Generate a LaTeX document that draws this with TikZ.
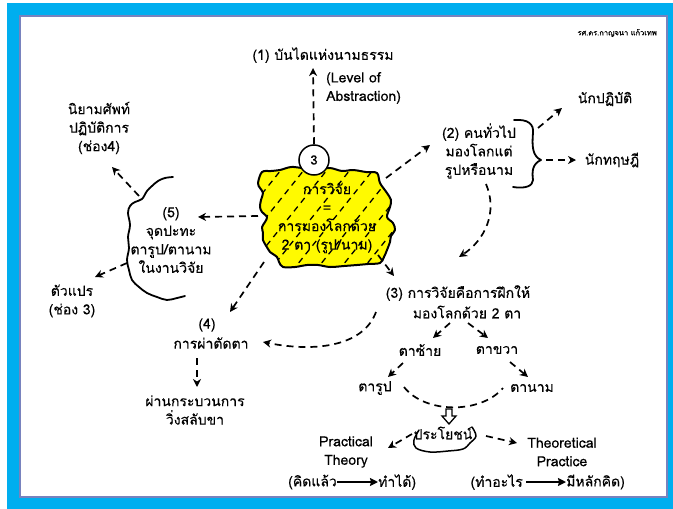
\documentclass[tikz,border=0pt]{standalone}
\usepackage{fontspec}
\setmainfont{Loma}[Script=Thai, FakeBold=0.35]
\usetikzlibrary{arrows.meta}
\definecolor{frameblue}{RGB}{0,174,239}
\definecolor{panelline}{RGB}{120,130,190}
\definecolor{blobyellow}{RGB}{255,250,0}

% outline of the yellow "research" blob
\def\blobpath{plot[smooth cycle, tension=0.55] coordinates {
  (262,172) (271,171) (280,170) (291,167) (302,168) (316,169) (330,168)
  (342,171) (353,170) (366,172) (377,173) (380,183) (387,193) (391,200)
  (390,207) (387,217) (393,223) (395,230) (391,236) (390,242) (387,250)
  (384,257) (380,263) (368,264) (357,265) (344,266) (330,267) (318,265)
  (307,265) (295,267) (283,267) (279,262) (277,257) (270,252) (268,249)
  (263,240) (263,233) (262,227) (265,222) (267,217) (262,212) (260,207)
  (261,200) (263,193) (260,188) (258,183)}}

\begin{document}
\begin{tikzpicture}[x=1pt,y=-1pt,
  lbl/.style={font=\fontsize{14}{18.5}\selectfont, inner sep=0pt, align=center},
  darr/.style={line width=1.7pt, dash pattern=on 7pt off 5pt,
    -{Stealth[length=8pt,width=8pt,inset=2.5pt]}},
  dline/.style={line width=1.7pt, dash pattern=on 7pt off 5pt},
  sarr/.style={line width=1.6pt, -{Stealth[length=8pt,width=8pt,inset=1pt]}},
  sketch/.style={line width=1.8pt, line cap=round, line join=round},
  hatch/.style={line width=1.3pt, dash pattern=on 6pt off 5pt}
]
% frame
\fill[white] (0,0) rectangle (673,509);
\fill[frameblue] (7,3) rectangle (673,509);
\draw[panelline, fill=white, line width=1.2pt] (20,16) rectangle (667,497);
\useasboundingbox (0,0) rectangle (673,509);

\node[font=\fontsize{7.5}{8}\selectfont, anchor=east, inner sep=0pt] (auth) at (657,33) {รศ.ดร.กาญจนา แก้วเทพ};

% central blob
\fill[blobyellow] \blobpath;
\begin{scope}
  \clip \blobpath;
  \foreach \x in {170,193,...,400} {
    \draw[hatch] (\x,280) -- ++(96,-120);
  }
\end{scope}
\draw[sketch, line width=2pt] \blobpath;
\node[lbl] (core) at (327,218) {การวิจัย\\=\\การมองโลกด้วย\\2 ตา (รูป/นาม)};
\node[draw, circle, fill=white, line width=1.5pt, minimum size=30pt, inner sep=0pt,
  font=\fontsize{13}{14}\selectfont] (circ3) at (314,160) {3};

% (1)
\node[lbl] (lvl1) at (323,55) {(1) บันไดแห่งนามธรรม};
\node[lbl, align=left, anchor=west] (abs) at (326,88) {(Level of\\Abstraction)};
\coordinate (a1) at (313,68);
\draw[darr] (circ3.north) -- (a1);

% (2)
\node[lbl] (n2) at (479,151) {(2) คนทั่วไป\\มองโลกแต่\\รูปหรือนาม};
\coordinate (b2s) at (386,178);
\coordinate (b2e) at (430,145);
\draw[darr] (b2s) -- (b2e);
\draw[sketch] (514,120) .. controls (528,119) and (534,124) .. (533,133)
  .. controls (532,145) and (532,156) .. (541,160)
  .. controls (532,164) and (532,172) .. (533,180)
  .. controls (533,186) and (525,189) .. (513,187);
\node[lbl] (prac) at (605,99) {นักปฏิบัติ};
\node[lbl] (theo) at (612,160) {นักทฤษฎี};
\coordinate (br1) at (538,128);
\coordinate (br1e) at (562,108);
\coordinate (br2) at (546,160);
\coordinate (br2e) at (576,160);
\draw[darr] (br1) -- (br1e);
\draw[darr] (br2) -- (br2e);

% (2) -> (3)
\coordinate (c23s) at (486,184);
\coordinate (c23e) at (459,257);
\draw[darr] (c23s) .. controls (498,212) and (485,240) .. (c23e);

% (3)
\node[lbl] (n3a) at (458,293) {(3) การวิจัยคือการฝึกให้};
\node[lbl] (n3b) at (467,312) {มองโลกด้วย 2 ตา};
\coordinate (b3s) at (378,255);
\coordinate (b3e) at (394,276);
\draw[darr] (b3s) -- (b3e);

\node[lbl] (eyeL) at (420,350) {ตาซ้าย};
\node[lbl] (eyeR) at (497,350) {ตาขวา};
\node[lbl] (form) at (375,388) {ตารูป};
\node[lbl] (name) at (532,388) {ตานาม};
\coordinate (e1s) at (450,323); \coordinate (e1e) at (433,338);
\coordinate (e2s) at (468,323); \coordinate (e2e) at (488,338);
\coordinate (e3s) at (403,363); \coordinate (e3e) at (388,377);
\coordinate (e4s) at (510,362); \coordinate (e4e) at (528,377);
\draw[darr] (e1s) -- (e1e);
\draw[darr] (e2s) -- (e2e);
\draw[darr] (e3s) -- (e3e);
\draw[darr] (e4s) -- (e4e);
\coordinate (sagL) at (404,387);
\coordinate (sagR) at (503,388);
\draw[dline] (sagL) .. controls (425,414) and (481,414) .. (sagR);

% hollow down arrow
\draw[line width=1.3pt, line join=miter, fill=white]
  (446,409) -- (452,409) -- (452,416) -- (456,416) -- (449,424) -- (442,416) -- (446,416) -- cycle;

\node[lbl] (ben) at (443,433) {ประโยชน์};
\draw[sketch, line width=1.5pt] plot[smooth, tension=0.6] coordinates {
  (419,430) (414,440) (416,448) (430,452) (448,451) (463,449) (470,443) (476,436) (472,427)};
\coordinate (bl) at (412,434); \coordinate (ble) at (388,448);
\coordinate (brr) at (486,436); \coordinate (bre) at (517,443);
\draw[darr] (bl) -- (ble);
\draw[darr] (brr) -- (bre);

% practical theory / theoretical practice
\node[lbl] (pt) at (346,452) {Practical\\Theory};
\node[lbl, anchor=east] (pta) at (337,482) {(คิดแล้ว};
\node[lbl, anchor=west] (ptb) at (378,482) {ทำได้)};
\draw[sarr] (pta.east) -- (ptb.west);
\node[lbl] (tp) at (562,452) {Theoretical\\Practice};
\node[lbl, anchor=east] (tpa) at (523,482) {(ทำอะไร};
\node[lbl, anchor=west] (tpb) at (566,482) {มีหลักคิด)};
\draw[sarr] ([xshift=3pt]tpa.east) -- (tpb.west);

% (4)
\node[lbl] (n4a) at (207,325) {(4)};
\node[lbl] (n4b) at (211,343) {การผ่าตัดตา};
\node[lbl] (n4c) at (195,410) {ผ่านกระบวนการ\\วิ่งสลับขา};
\coordinate (b4s) at (264,262); \coordinate (b4e) at (230,312);
\draw[darr] (b4s) -- (b4e);
\coordinate (c34s) at (376,312); \coordinate (c34e) at (263,342);
\draw[darr] (c34s) .. controls (364,345) and (318,353) .. (c34e);
\coordinate (d4s) at (197,358); \coordinate (d4e) at (197,387);
\draw[darr] (d4s) -- (d4e);

% (5)
\node[lbl] (n5) at (171,240) {(5)\\จุดปะทะ\\ตารูป/ตานาม\\ในงานวิจัย};
\coordinate (b5s) at (258,216); \coordinate (b5e) at (198,217);
\draw[darr] (b5s) -- (b5e);
\draw[sketch] plot[smooth, tension=0.6] coordinates {
  (173,177) (165,178) (158,181) (152,186) (147,191) (142,199) (135,202)
  (130,206) (128,213) (130,225) (128,237) (129,248) (127,260) (129,270)
  (132,280) (139,287) (147,293) (157,297) (167,300) (177,298) (185,296)};
\node[lbl] (defn) at (99,128) {นิยามศัพท์\\ปฏิบัติการ\\(ช่อง4)};
\node[lbl] (var) at (72,301) {ตัวแปร\\(ช่อง 3)};
\coordinate (w1s) at (139,196); \coordinate (w1e) at (112,167);
\coordinate (w2s) at (127,263); \coordinate (w2e) at (95,277);
\draw[darr] (w1s) -- (w1e);
\draw[darr] (w2s) -- (w2e);
\end{tikzpicture}
\end{document}
